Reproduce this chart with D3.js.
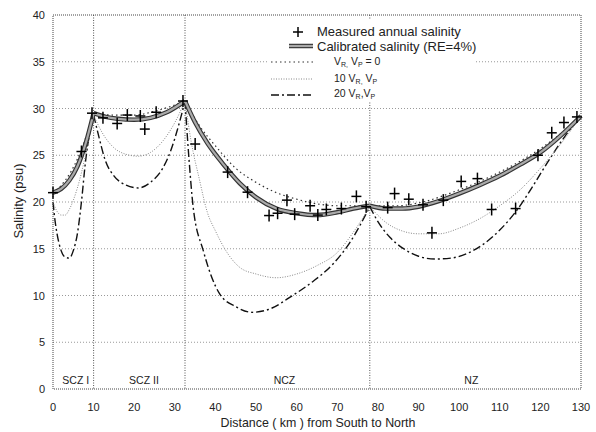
<!DOCTYPE html>
<html>
<head>
<meta charset="utf-8">
<script src="https://cdn.jsdelivr.net/npm/d3@7"></script>
<style>
  body { margin: 0; background: #fff; }
  text { font-family: "Liberation Sans", Arial, sans-serif; fill: #222; }
</style>
</head>
<body>
<div id="chart"></div>
<script>
// measured annual salinity (km, psu)
var measuredKm  = [0, 7.0, 9.6, 12.3, 15.8, 18.3, 21.5, 22.6, 25.4, 32.0, 35.0, 43.0, 47.9, 53.2, 55.3, 57.6, 59.5, 63.3, 65.2, 67.3, 71.0, 74.7, 77.1, 82.4, 84.1, 87.6, 91.1, 93.3, 96.1, 100.5, 104.5, 108.0, 113.9, 119.4, 122.8, 125.8, 129.0];
var measuredSal = [21.0, 25.4, 29.5, 29.0, 28.4, 29.3, 29.2, 27.8, 29.6, 30.8, 26.2, 23.2, 21.05, 18.55, 18.8, 20.2, 18.7, 19.6, 18.6, 19.2, 19.3, 20.6, 19.5, 19.4, 20.9, 20.3, 19.7, 16.7, 20.2, 22.2, 22.5, 19.2, 19.3, 25.0, 27.4, 28.5, 29.1];

// calibrated salinity (RE=4%)
var calibKm  = [0, 2, 4, 6, 8, 10, 13, 16, 20, 24, 28, 32.5, 35, 38, 42, 46, 50, 55, 60, 65, 70, 74, 78, 82, 86, 90, 95, 100, 105, 110, 115, 120, 125, 130];
var calibSal = [21.0, 21.4, 22.3, 23.8, 26.2, 29.5, 29.1, 28.9, 28.8, 29.0, 29.6, 30.8, 28.5, 26.3, 24.0, 22.0, 20.5, 19.3, 18.8, 18.6, 18.9, 19.3, 19.6, 19.3, 19.3, 19.5, 20.1, 20.9, 21.8, 22.8, 24.0, 25.3, 27.1, 29.2];

// V_R, V_P = 0
var zeroKm  = [0, 3, 6, 8, 10, 15, 20, 25, 32.5, 36, 40, 45, 50, 55, 60, 65, 70, 78, 85, 90, 100, 110, 120, 125, 130];
var zeroSal = [21.0, 22.3, 24.6, 26.8, 29.5, 29.3, 29.3, 29.7, 30.8, 28.2, 26.0, 23.6, 22.1, 21.0, 20.3, 19.8, 19.6, 19.6, 19.6, 19.9, 21.3, 23.2, 25.7, 27.3, 29.2];

// 10 V_R, V_P
var tenKm  = [0, 1, 2, 3, 4, 6, 8, 10, 12, 15, 18, 21, 24, 27, 30, 32.5, 34, 36, 38, 40, 43, 46, 50, 55, 60, 65, 70, 74, 78, 82, 86, 90, 95, 100, 105, 110, 115, 120, 125, 130];
var tenSal = [20.0, 19.0, 18.6, 18.6, 19.2, 21.5, 25.0, 29.3, 27.5, 25.8, 25.1, 24.9, 25.3, 26.5, 28.5, 30.8, 26.5, 22.5, 18.9, 16.9, 14.5, 13.0, 12.3, 11.9, 12.3, 13.2, 14.6, 16.8, 19.5, 17.8, 16.9, 16.6, 16.6, 17.2, 18.2, 19.6, 21.3, 23.6, 26.2, 29.2];

// 20 V_R, V_P
var twentyKm  = [0, 0.5, 1, 2, 3, 4, 5, 6, 7, 8, 9, 10, 11, 13, 15, 18, 21, 24, 27, 29, 31, 32.5, 33.5, 34.5, 37, 41, 45, 49, 53, 59, 64, 69, 73, 78, 80, 83, 86, 90, 94, 98, 102, 106, 110, 114, 118, 122, 126, 130];
var twentySal = [20.0, 18.0, 16.6, 14.8, 14.1, 14.0, 14.8, 16.6, 20.0, 24.3, 27.3, 29.3, 27.5, 24.3, 22.8, 21.8, 21.5, 22.1, 23.6, 25.5, 28.3, 30.8, 24.5, 19.5, 14.8, 10.2, 8.8, 8.2, 8.5, 10.0, 11.5, 13.4, 15.6, 19.5, 17.9, 16.2, 15.1, 14.2, 13.9, 14.0, 14.5, 15.5, 17.0, 19.0, 21.6, 24.4, 27.0, 29.2];

var zoneBounds = [10, 32.5, 78];
var zoneNames = ["SCZ I", "SCZ II", "NCZ", "NZ"];
var zoneLabelKm = [5.6, 22.4, 57, 103];
var xTicks = d3.range(0, 131, 10);
var yTicks = d3.range(0, 41, 5);

var width = 596, height = 432;
var margin = {top: 15, right: 15, bottom: 44, left: 53};

var svg = d3.select("#chart").append("svg")
    .attr("width", width).attr("height", height);

var x = d3.scaleLinear().domain([0, 130]).range([margin.left, 581]);
var y = d3.scaleLinear().domain([0, 40]).range([389, margin.top]);

// horizontal grid lines
svg.selectAll("line.grid").data(yTicks.filter(function(d) { return d > 0 && d < 40; }))
  .enter().append("line")
    .attr("x1", x(0)).attr("x2", x(130))
    .attr("y1", function(d) { return y(d); }).attr("y2", function(d) { return y(d); })
    .style("stroke", "#999").style("stroke-width", 1).style("stroke-dasharray", "1,2");

// zone boundaries
svg.selectAll("line.zone").data(zoneBounds)
  .enter().append("line")
    .attr("x1", function(d) { return x(d); }).attr("x2", function(d) { return x(d); })
    .attr("y1", y(40)).attr("y2", y(0))
    .style("stroke", "#555").style("stroke-width", 1).style("stroke-dasharray", "1,1.5");

// plot frame
svg.append("rect")
    .attr("x", x(0)).attr("y", y(40))
    .attr("width", x(130) - x(0)).attr("height", y(0) - y(40))
    .style("fill", "none").style("stroke", "#444").style("stroke-width", 1)
    .style("stroke-dasharray", "1,1");

// tick labels
svg.selectAll("text.xt").data(xTicks).enter().append("text")
    .attr("x", function(d) { return x(d); }).attr("y", 411)
    .attr("text-anchor", "middle").style("font-size", "11px")
    .text(function(d) { return d; });
svg.selectAll("text.yt").data(yTicks).enter().append("text")
    .attr("x", 45).attr("y", function(d) { return y(d) + 4; })
    .attr("text-anchor", "end").style("font-size", "11px")
    .text(function(d) { return d; });

// axis titles
svg.append("text").attr("x", 318).attr("y", 427).attr("text-anchor", "middle")
    .style("font-size", "12.4px").text("Distance ( km ) from South to North");
svg.append("text").attr("transform", "translate(23,201) rotate(-90)")
    .attr("text-anchor", "middle").style("font-size", "13px").text("Salinity (psu)");

// zone names
svg.selectAll("text.zn").data(zoneNames).enter().append("text")
    .attr("x", function(d, i) { return x(zoneLabelKm[i]); }).attr("y", 384)
    .attr("text-anchor", "middle").style("font-size", "10.5px")
    .text(function(d) { return d; });

// draw a curve split at zone boundaries so the peaks stay sharp
function zoneCurve(km, sal, styleFn) {
  var pts = km.map(function(d, i) { return [d, sal[i]]; });
  var edges = [0].concat(zoneBounds).concat([130]);
  var line = d3.line().x(function(d) { return x(d[0]); }).y(function(d) { return y(d[1]); })
      .curve(d3.curveMonotoneX);
  for (var i = 0; i < edges.length - 1; i++) {
    var seg = pts.filter(function(p) { return p[0] >= edges[i] && p[0] <= edges[i + 1]; });
    styleFn(svg.append("path").datum(seg).attr("d", line).style("fill", "none"));
  }
}

zoneCurve(twentyKm, twentySal, function(p) {
  p.style("stroke", "#111").style("stroke-width", 1.4).style("stroke-dasharray", "8,3,2,3");
});
zoneCurve(tenKm, tenSal, function(p) {
  p.style("stroke", "#888").style("stroke-width", 1).style("stroke-dasharray", "1,1.5");
});
zoneCurve(zeroKm, zeroSal, function(p) {
  p.style("stroke", "#333").style("stroke-width", 1.2).style("stroke-dasharray", "1.5,3");
});
zoneCurve(calibKm, calibSal, function(p) {
  p.style("stroke", "#333").style("stroke-width", 4.5);
});
zoneCurve(calibKm, calibSal, function(p) {
  p.style("stroke", "#aaa").style("stroke-width", 2.2);
});

// measured points
svg.selectAll("g.pt").data(measuredKm).enter().append("g")
    .attr("transform", function(d, i) { return "translate(" + x(d) + "," + y(measuredSal[i]) + ")"; })
    .each(function() {
      var g = d3.select(this);
      g.append("line").attr("x1", -5).attr("x2", 5).attr("y1", 0).attr("y2", 0)
        .style("stroke", "#000").style("stroke-width", 1.5);
      g.append("line").attr("x1", 0).attr("x2", 0).attr("y1", -6).attr("y2", 6)
        .style("stroke", "#000").style("stroke-width", 1.5);
    });

// legend
var lg = svg.append("g");
lg.append("rect").attr("x", 268).attr("y", 20).attr("width", 206).attr("height", 82).style("fill", "#fff");
lg.append("line").attr("x1", 293).attr("x2", 303).attr("y1", 32).attr("y2", 32).style("stroke", "#000").style("stroke-width", 1.5);
lg.append("line").attr("x1", 298).attr("x2", 298).attr("y1", 27).attr("y2", 37).style("stroke", "#000").style("stroke-width", 1.5);
lg.append("text").attr("x", 317).attr("y", 36).style("font-size", "13px").text("Measured annual salinity");

lg.append("line").attr("x1", 289).attr("x2", 313).attr("y1", 46).attr("y2", 46).style("stroke", "#333").style("stroke-width", 4.5);
lg.append("line").attr("x1", 289).attr("x2", 313).attr("y1", 46).attr("y2", 46).style("stroke", "#aaa").style("stroke-width", 2.2);
lg.append("text").attr("x", 317).attr("y", 51).style("font-size", "13px").text("Calibrated salinity (RE=4%)");

lg.append("line").attr("x1", 271).attr("x2", 313).attr("y1", 62).attr("y2", 62)
  .style("stroke", "#333").style("stroke-width", 1.2).style("stroke-dasharray", "1.5,3");
var t1 = lg.append("text").attr("x", 334).attr("y", 65).style("font-size", "10.5px");
t1.append("tspan").text("V");
t1.append("tspan").attr("dy", 2).style("font-size", "7px").text("R,");
t1.append("tspan").attr("dy", -2).text(" V");
t1.append("tspan").attr("dy", 2).style("font-size", "7px").text("P");
t1.append("tspan").attr("dy", -2).text(" = 0");

lg.append("line").attr("x1", 271).attr("x2", 313).attr("y1", 79).attr("y2", 79)
  .style("stroke", "#888").style("stroke-width", 1).style("stroke-dasharray", "1,1.5");
var t2 = lg.append("text").attr("x", 334).attr("y", 82).style("font-size", "10.5px");
t2.append("tspan").text("10 V");
t2.append("tspan").attr("dy", 2).style("font-size", "7px").text("R,");
t2.append("tspan").attr("dy", -2).text(" V");
t2.append("tspan").attr("dy", 2).style("font-size", "7px").text("P");

lg.append("line").attr("x1", 271).attr("x2", 313).attr("y1", 95).attr("y2", 95)
  .style("stroke", "#111").style("stroke-width", 1.4).style("stroke-dasharray", "8,3,2,3");
var t3 = lg.append("text").attr("x", 334).attr("y", 97).style("font-size", "10.5px");
t3.append("tspan").text("20 V");
t3.append("tspan").attr("dy", 2).style("font-size", "7px").text("R");
t3.append("tspan").attr("dy", -2).text(",V");
t3.append("tspan").attr("dy", 2).style("font-size", "7px").text("P");
</script>
</body>
</html>
